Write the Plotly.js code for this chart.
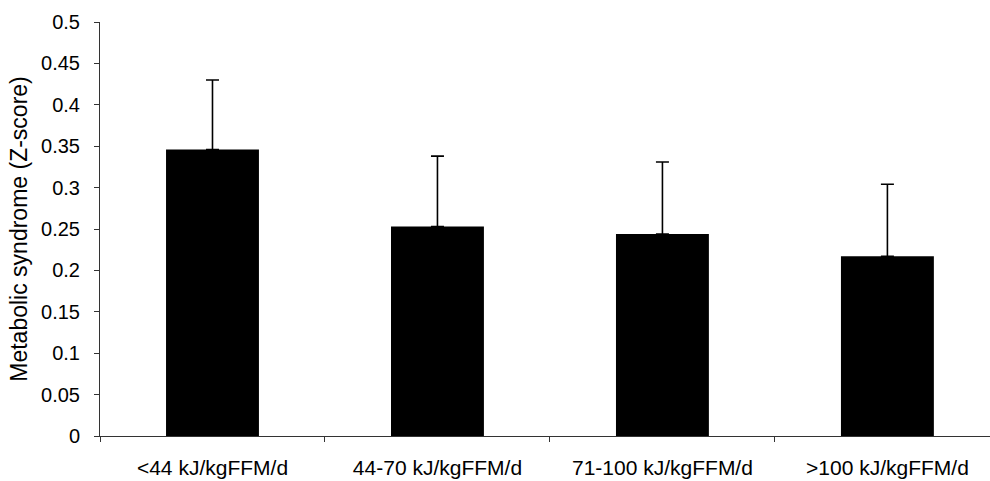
<!DOCTYPE html>
<html>
<head>
<meta charset="utf-8">
<script src="https://cdn.plot.ly/plotly-3.0.1.min.js"></script>
<style>html,body{margin:0;padding:0;background:#fff;}#chart{width:990px;height:481px;}</style>
</head>
<body>
<div id="chart"></div>
<script>
var categories = ['<44 kJ/kgFFM/d', '44-70 kJ/kgFFM/d', '71-100 kJ/kgFFM/d', '>100 kJ/kgFFM/d'];
var means = [0.346, 0.253, 0.244, 0.217];
var errors = [0.084, 0.085, 0.087, 0.087];
var yTickValues = [0, 0.05, 0.1, 0.15, 0.2, 0.25, 0.3, 0.35, 0.4, 0.45, 0.5];
var yTickLabels = ['0', '0.05', '0.1', '0.15', '0.2', '0.25', '0.3', '0.35', '0.4', '0.45', '0.5'];
var yTitle = 'Metabolic syndrome (Z-score)';

var trace = {
  type: 'bar',
  x: categories,
  y: means,
  marker: {color: '#000000', line: {width: 0}},
  error_y: {
    type: 'data',
    symmetric: false,
    array: errors,
    arrayminus: errors.map(function(){return 0;}),
    color: '#000000',
    thickness: 1.6,
    width: 6.5
  },
  hoverinfo: 'none'
};

var layout = {
  width: 990,
  height: 481,
  margin: {l: 100, r: 0, t: 22, b: 45},
  paper_bgcolor: '#ffffff',
  plot_bgcolor: '#ffffff',
  showlegend: false,
  bargap: 0.587,
  font: {family: 'Liberation Sans, Arial, sans-serif', color: '#000000'},
  xaxis: {
    type: 'category',
    range: [-0.5, 3.456],
    showgrid: false,
    zeroline: false,
    showline: true,
    linecolor: '#333333',
    linewidth: 1,
    ticks: 'outside',
    tickson: 'boundaries',
    ticklen: 5,
    tickcolor: '#333333',
    tickfont: {size: 21, color: '#000000'},
    ticklabelstandoff: 13,
    fixedrange: true
  },
  yaxis: {
    range: [0, 0.5],
    showgrid: false,
    zeroline: false,
    showline: true,
    linecolor: '#333333',
    linewidth: 1,
    ticks: 'outside',
    ticklen: 5,
    tickcolor: '#333333',
    tickvals: yTickValues,
    ticktext: yTickLabels,
    tickfont: {size: 20, color: '#000000'},
    ticklabelstandoff: 10,
    title: {text: yTitle, font: {size: 23, color: '#000000'}, standoff: 7},
    automargin: false,
    fixedrange: true
  }
};

Plotly.newPlot('chart', [trace], layout, {displayModeBar: false, staticPlot: true});
</script>
</body>
</html>
